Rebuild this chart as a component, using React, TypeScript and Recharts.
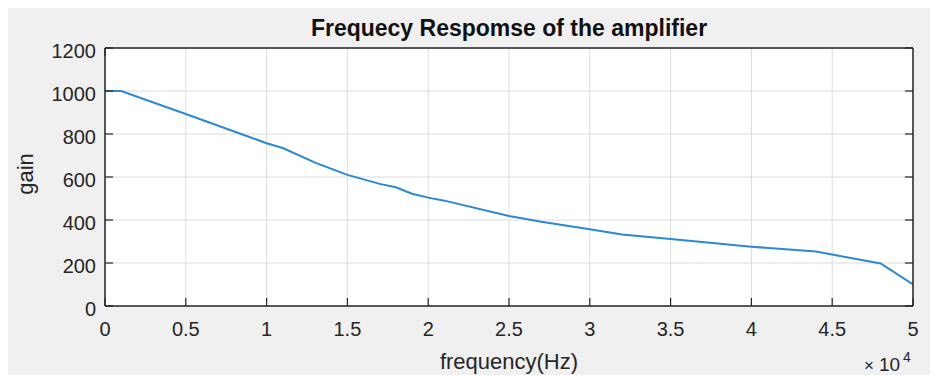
import React from "react";
import { CartesianGrid, Line, LineChart, XAxis, YAxis } from "recharts";

// frequency sweep (Hz) and the gain at each point
const freqHz = [0, 1000, 5000, 10000, 11000, 13000, 15000, 17000, 18000, 19000, 20000, 21000, 25000, 27000, 30000, 32000, 35000, 40000, 44000, 48000, 50000];
const gain = [1000, 1000, 893, 757, 735, 667, 610, 568, 552, 522, 504, 490, 419, 392, 357, 333, 312, 276, 253, 198, 100];

const xTicks = [0, 5000, 10000, 15000, 20000, 25000, 30000, 35000, 40000, 45000, 50000];
const yTicks = [0, 200, 400, 600, 800, 1000, 1200];

const data = freqHz.map((f, i) => ({ f, gain: gain[i] }));

const ink = "#262626";
const font = '"Liberation Sans", Arial, Helvetica, sans-serif';

const BottomTick = ({ x, y, payload }: any) => (
  <g>
    <line x1={x} x2={x} y1={y} y2={y - 8} stroke={ink} strokeWidth={1.2} />
    <text x={x} y={y + 30} textAnchor="middle" fill={ink} fontSize={20} fontFamily={font}>
      {String(payload.value / 10000)}
    </text>
  </g>
);

const TopTick = ({ x, y }: any) => (
  <line x1={x} x2={x} y1={y} y2={y + 8} stroke={ink} strokeWidth={1.2} />
);

const LeftTick = ({ x, y, payload }: any) => (
  <g>
    <line x1={x} x2={x + 8} y1={y} y2={y} stroke={ink} strokeWidth={1.2} />
    <text x={x - 9} y={y + 10} textAnchor="end" fill={ink} fontSize={20} fontFamily={font}>
      {payload.value}
    </text>
  </g>
);

const RightTick = ({ x, y }: any) => (
  <line x1={x} x2={x - 8} y1={y} y2={y} stroke={ink} strokeWidth={1.2} />
);

export default function App() {
  return (
    <div style={{ position: "relative", width: 930, height: 369, marginTop: -2, background: "#f0f0f0" }}>
      <LineChart width={930} height={369} data={data} margin={{ top: 32, right: 15, bottom: 39, left: 37 }}>
        <CartesianGrid stroke="#dcdcdc" fill="#ffffff" />
        <XAxis
          dataKey="f"
          type="number"
          domain={[0, 50000]}
          ticks={xTicks}
          allowDataOverflow
          height={30}
          tickSize={0}
          tickMargin={0}
          tickLine={false}
          axisLine={{ stroke: ink, strokeWidth: 1.5 }}
          tick={<BottomTick />}
          interval={0}
        />
        <XAxis
          xAxisId="top"
          orientation="top"
          type="number"
          domain={[0, 50000]}
          ticks={xTicks}
          allowDataOverflow
          height={10}
          tickSize={0}
          tickMargin={0}
          tickLine={false}
          axisLine={{ stroke: ink, strokeWidth: 1.5 }}
          tick={<TopTick />}
          interval={0}
        />
        <YAxis
          type="number"
          domain={[0, 1200]}
          ticks={yTicks}
          width={60}
          tickSize={0}
          tickMargin={0}
          tickLine={false}
          axisLine={{ stroke: ink, strokeWidth: 1.5 }}
          tick={<LeftTick />}
          interval={0}
        />
        <YAxis
          yAxisId="right"
          orientation="right"
          type="number"
          domain={[0, 1200]}
          ticks={yTicks}
          allowDataOverflow
          width={10}
          tickSize={0}
          tickMargin={0}
          tickLine={false}
          axisLine={{ stroke: ink, strokeWidth: 1.5 }}
          tick={<RightTick />}
          interval={0}
        />
        <Line
          type="linear"
          dataKey="gain"
          stroke="#2b8ad2"
          strokeWidth={2}
          dot={false}
          isAnimationActive={false}
        />
      </LineChart>
      <svg width={930} height={376} style={{ position: "absolute", left: 0, top: 0, pointerEvents: "none", overflow: "visible" }}>
        <text x={501} y={30} textAnchor="middle" fontSize={23} fontWeight="bold" fill="#111" fontFamily={font}>
          Frequecy Respomse of the amplifier
        </text>
        <text x={24.5} y={168} textAnchor="middle" fontSize={22} fill={ink} fontFamily={font} transform="rotate(-90, 24.5, 168)">
          gain
        </text>
        <text x={501} y={363} textAnchor="middle" fontSize={22} fill={ink} fontFamily={font}>
          frequency(Hz)
        </text>
        <text x={856} y={365} fontSize={17} fill={ink} fontFamily={font}>×</text>
        <text x={871} y={365} fontSize={19} fill={ink} fontFamily={font}>10</text>
        <text x={895} y={356} fontSize={14} fill={ink} fontFamily={font}>4</text>
      </svg>
    </div>
  );
}
